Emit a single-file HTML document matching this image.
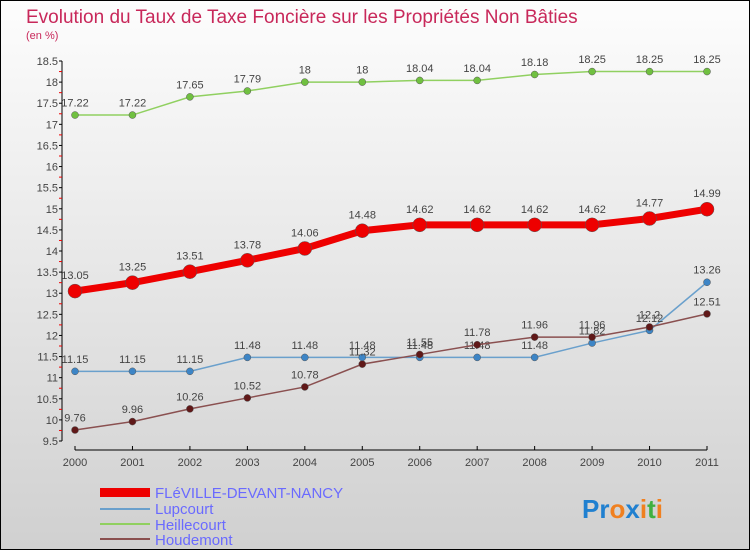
<!DOCTYPE html>
<html><head><meta charset="utf-8"><style>
body{margin:0}
svg text{font-family:"Liberation Sans",sans-serif}
</style></head><body>
<svg id="c" width="750" height="550" xmlns="http://www.w3.org/2000/svg">
<defs><linearGradient id="bg" x1="0" y1="0" x2="0" y2="1"><stop offset="0" stop-color="#fdfdfd"/><stop offset="1" stop-color="#d0d0d0"/></linearGradient></defs>
<rect x="0.5" y="0.5" width="749" height="549" fill="url(#bg)" stroke="#000"/>
<text x="26" y="23" font-size="19" fill="#c8285a">Evolution du Taux de Taxe Foncière sur les Propriétés Non Bâties</text>
<text x="26" y="39" font-size="11" fill="#c8285a">(en %)</text>
<g id="axes"></g><g id="series"></g>
<g>
<rect x="100" y="488" width="50" height="9" fill="#ee0000"/>
<text x="155" y="498" font-size="15" fill="#6a6aff">FLéVILLE-DEVANT-NANCY</text>
<rect x="100" y="508" width="50" height="2" fill="#6aa0cc"/>
<text x="155" y="514" font-size="15" fill="#6a6aff">Lupcourt</text>
<rect x="100" y="523" width="50" height="2" fill="#90d060"/>
<text x="155" y="530" font-size="15" fill="#6a6aff">Heillecourt</text>
<rect x="100" y="538" width="50" height="2" fill="#8a5050"/>
<text x="155" y="545" font-size="15" fill="#6a6aff">Houdemont</text>
</g>
<text x="582" y="518" font-size="26" font-weight="bold"><tspan fill="#2080d0">Pr</tspan><tspan fill="#f08020">o</tspan><tspan fill="#2080d0">x</tspan><tspan fill="#f08020">i</tspan><tspan fill="#40b040">t</tspan><tspan fill="#f08020">i</tspan></text>
</svg>
<script>
const years=[2000,2001,2002,2003,2004,2005,2006,2007,2008,2009,2010,2011];
const fleville=[13.05,13.25,13.51,13.78,14.06,14.48,14.62,14.62,14.62,14.62,14.77,14.99];
const lupcourt=[11.15,11.15,11.15,11.48,11.48,11.48,11.48,11.48,11.48,11.82,12.12,13.26];
const heillecourt=[17.22,17.22,17.65,17.79,18,18,18.04,18.04,18.18,18.25,18.25,18.25];
const houdemont=[9.76,9.96,10.26,10.52,10.78,11.32,11.55,11.78,11.96,11.96,12.2,12.51];
const yTicks=[9.5,10,10.5,11,11.5,12,12.5,13,13.5,14,14.5,15,15.5,16,16.5,17,17.5,18,18.5];
const NS='http://www.w3.org/2000/svg';
const X=i=>75+i*(707-75)/(years.length-1);
const Y=v=>441-(v-9.5)*(441-61)/9;
function mk(t,a,p){const e=document.createElementNS(NS,t);for(const k in a)e.setAttribute(k,a[k]);p.appendChild(e);return e;}
const ax=document.getElementById('axes');
let l=mk('line',{x1:62,y1:61,x2:62,y2:441,stroke:'#000'},ax);


yTicks.forEach((v,i)=>{
 mk('line',{x1:59,y1:Y(v),x2:62,y2:Y(v),stroke:'#000'},ax);
 if(i<yTicks.length-1) mk('line',{x1:59,y1:(Y(v)+Y(yTicks[i+1]))/2,x2:62,y2:(Y(v)+Y(yTicks[i+1]))/2,stroke:'#e00'},ax);
 const t=mk('text',{x:58,y:Y(v)+4,'font-size':11,'text-anchor':'end',fill:'#444'},ax);t.textContent=v;
 
 
});
l=mk('line',{x1:75,y1:450,x2:707,y2:450,stroke:'#000'},ax);


years.forEach((y,i)=>{
 mk('line',{x1:X(i),y1:446,x2:X(i),y2:450,stroke:'#000'},ax);
 const t=mk('text',{x:X(i),y:466,'font-size':11,'text-anchor':'middle',fill:'#444'},ax);t.textContent=y;
 
 
});
const sg=document.getElementById('series');
function series(name,data,color,dot,w,r){
 const g=mk('g',{},sg);
 
 
 const p=mk('polyline',{points:data.map((v,i)=>X(i)+','+Y(v)).join(' '),fill:'none',stroke:color,'stroke-width':w},g);
 
 
 data.forEach((v,i)=>{
  const c=mk('circle',{cx:X(i),cy:Y(v),r:r,fill:dot,stroke:'#555','stroke-width':0.5},g);
  
  
  const t=mk('text',{x:X(i),y:Y(v)-(r+5),'font-size':11,'text-anchor':'middle',fill:'#444'},g);t.textContent=v;
  
  
 });
}
series('heillecourt',heillecourt,'#90d060','#70c040',1.5,3.5);
series('lupcourt',lupcourt,'#6aa0cc','#3d85c6',1.5,3.5);
series('houdemont',houdemont,'#8a5050','#601818',1.5,3.5);
series('fleville',fleville,'#ee0000','#ee0000',7,7);
</script>
</body></html>
